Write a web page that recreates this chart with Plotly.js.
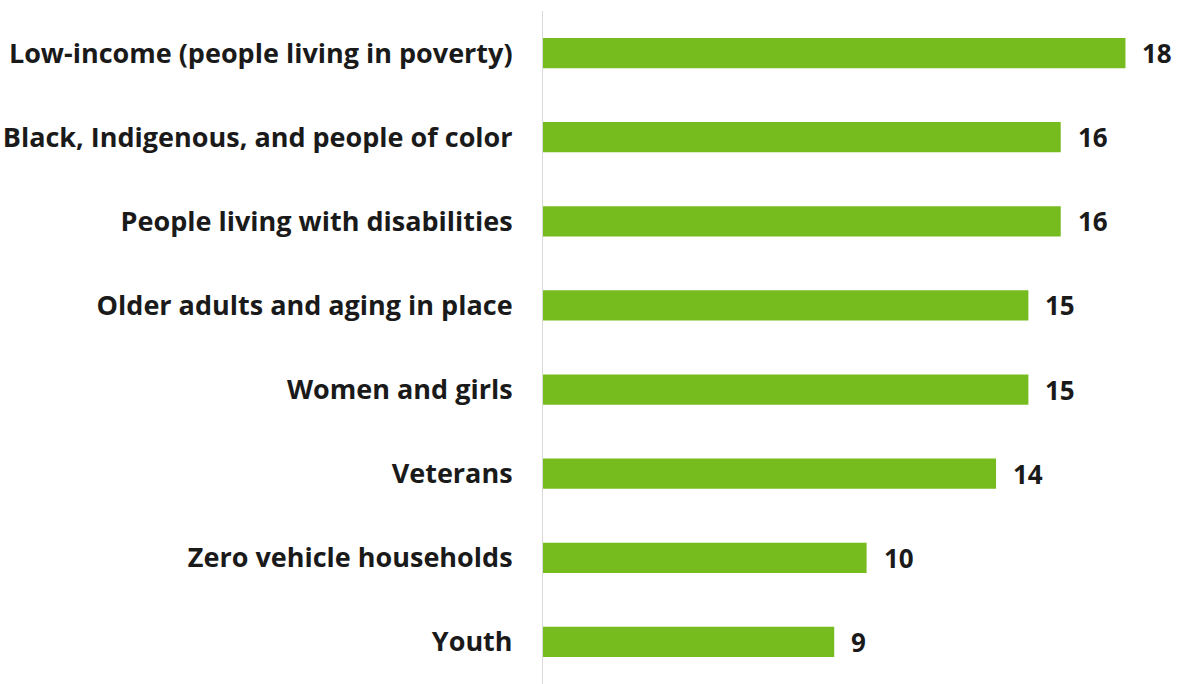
<!DOCTYPE html>
<html>
<head>
<meta charset="utf-8">
<script src="https://cdn.plot.ly/plotly-3.0.1.min.js"></script>
<style>html,body{margin:0;padding:0;background:#fff;}#chart{width:1178px;height:684px;}</style>
</head>
<body>
<div id="chart"></div>
<script>
const categories = [
  "Low-income (people living in poverty)",
  "Black, Indigenous, and people of color",
  "People living with disabilities",
  "Older adults and aging in place",
  "Women and girls",
  "Veterans",
  "Zero vehicle households",
  "Youth"
];
const counts = [18, 16, 16, 15, 15, 14, 10, 9];

const FONT = "Open Sans, Noto Sans, sans-serif";
const barTrace = {
  type: "bar",
  orientation: "h",
  x: counts,
  y: categories,
  width: 0.36,
  marker: {color: "#77BC1F", line: {width: 0}},
  hoverinfo: "x+y"
};

const annotations = categories.map((c, i) => ({
  x: counts[i], y: c, xref: "x", yref: "y",
  text: String(counts[i]), showarrow: false,
  xanchor: "left", xshift: 15,
  font: {family: FONT, size: 26, color: "#1a1a1a", weight: "bold"}
}));

const layout = {
  width: 1178, height: 684,
  margin: {l: 543, r: 4, t: 11, b: 0},
  paper_bgcolor: "#ffffff", plot_bgcolor: "#ffffff",
  showlegend: false,
  bargap: 0.64,
  xaxis: {range: [0, 19.5], showgrid: false, zeroline: false, showticklabels: false, showline: false, ticks: ""},
  yaxis: {
    autorange: "reversed", type: "category",
    showline: true, linecolor: "#d9d9d9", linewidth: 1,
    showgrid: false, zeroline: false, ticks: "",
    ticklabelstandoff: 24,
    tickfont: {family: FONT, size: 27, color: "#1a1a1a", weight: "bold"}
  },
  annotations: annotations
};

Plotly.newPlot("chart", [barTrace], layout, {displayModeBar: false, staticPlot: true});
</script>
</body>
</html>
